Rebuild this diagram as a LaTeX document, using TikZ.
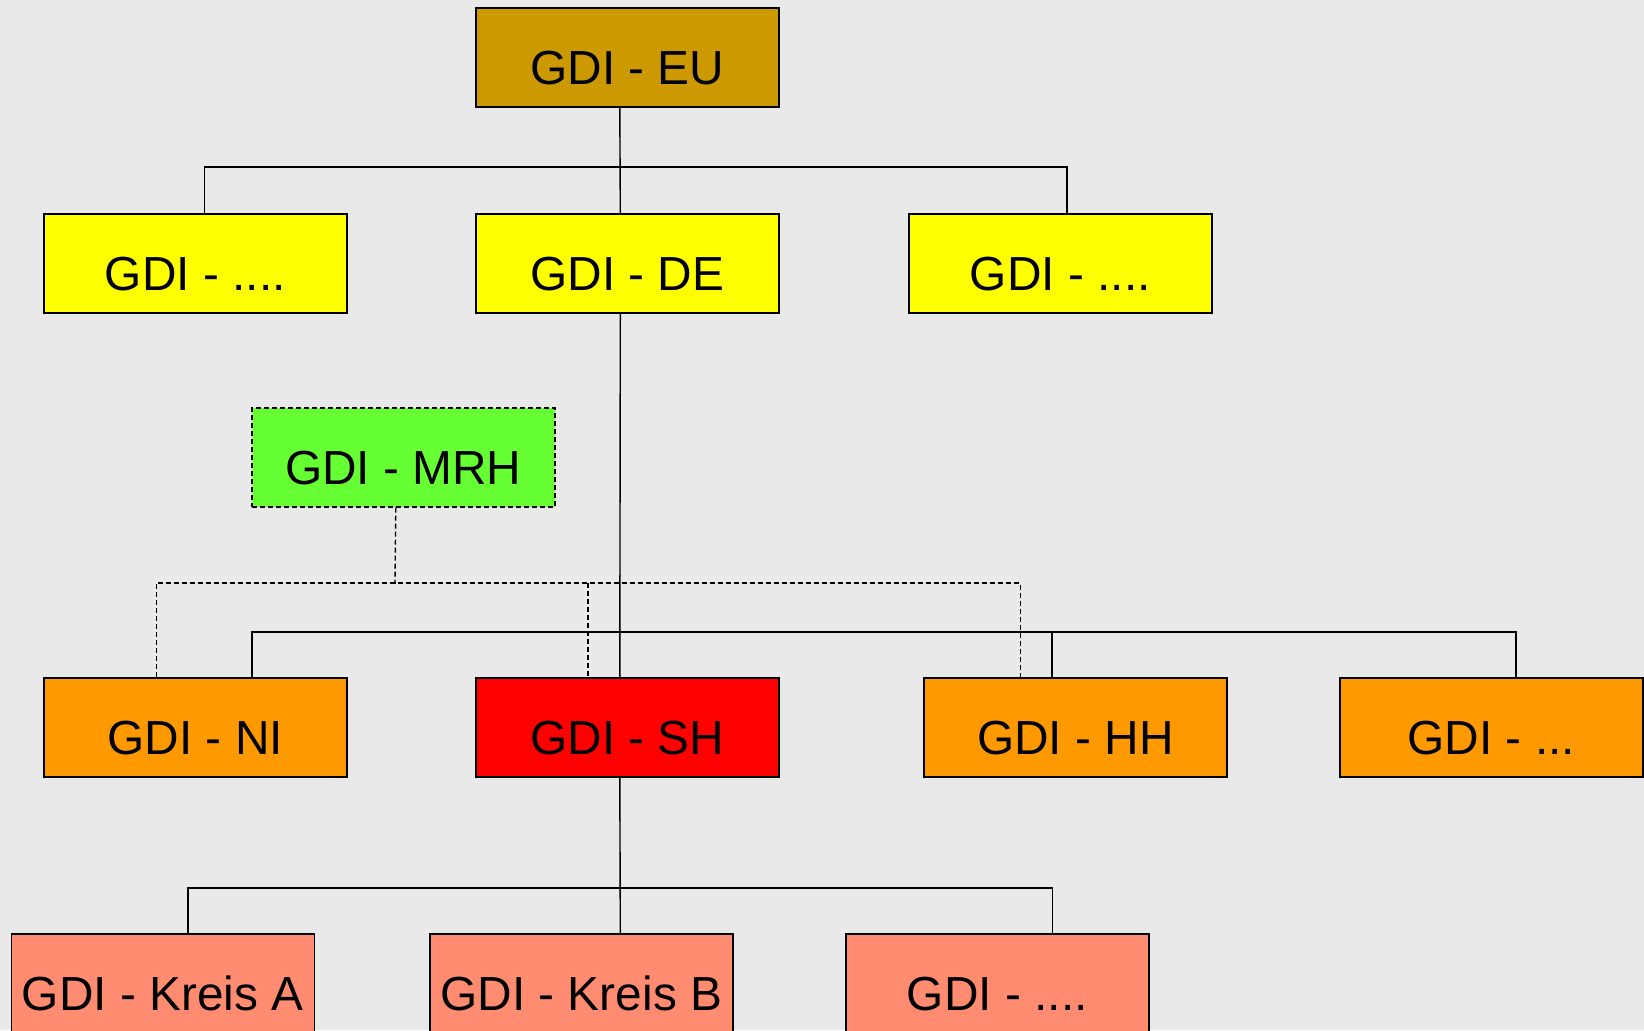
\documentclass[tikz,border=0pt]{standalone}
\usepackage{fontspec}
\setmainfont{Liberation Sans}
\begin{document}
\definecolor{bgc}{HTML}{E9E9E9}
\definecolor{euc}{HTML}{CC9900}
\definecolor{natc}{HTML}{FFFF00}
\definecolor{mrhc}{HTML}{66FF33}
\definecolor{landc}{HTML}{FF9900}
\definecolor{shc}{HTML}{FF0000}
\definecolor{kreisc}{HTML}{FF8C70}
\begin{tikzpicture}[x=1bp,y=-1bp,
  box/.style={draw=black, line width=1.6bp, anchor=north west,
    minimum width=303bp, inner xsep=0pt, inner ysep=0pt,
    text height=77bp, text depth=22bp,
    font=\fontsize{48}{58}\selectfont},
  link/.style={draw=black, line width=1.4bp},
  dlink/.style={link, dash pattern=on 5bp off 3bp}]
\useasboundingbox (0,0) rectangle (1644,1030);
\clip (0,0) rectangle (1644,1030);
\fill[bgc] (0,0) rectangle (1644,1030);

% level 1
\node[box, fill=euc] (eu) at (475,7) {GDI - EU};
% level 2
\node[box, fill=natc] (gl) at (43,213) {GDI - ....};
\node[box, fill=natc] (de) at (475,213) {GDI - DE};
\node[box, fill=natc] (gr) at (908,213) {GDI - ....};
% metropolitan region
\node[box, fill=mrhc, dash pattern=on 5bp off 3bp] (mrh) at (251,407) {GDI - MRH};
% level 3
\node[box, fill=landc] (ni) at (43,677) {GDI - NI};
\node[box, fill=shc] (sh) at (475,677) {GDI - SH};
\node[box, fill=landc] (hh) at (923,677) {GDI - HH};
\node[box, fill=landc] (gx) at (1339,677) {GDI - ...};
% level 4
\node[box, fill=kreisc] (ka) at (10.5,933) {GDI - Kreis A};
\node[box, fill=kreisc] (kb) at (429,933) {GDI - Kreis B};
\node[box, fill=kreisc] (kx) at (845,933) {GDI - ....};

% bus junctions
\coordinate (j1) at (619,167);
\coordinate (j2) at (619,632);
\coordinate (j3) at (619,888);
\coordinate (jm) at (395,583);

% EU -> national level
\draw[link] ([xshift=-7.5bp]eu.south) -- ([xshift=-7bp]de.north);
\draw[link] ([xshift=9bp]gl.north) |- (j1) -| ([xshift=6.5bp]gr.north);

% DE -> federal states
\draw[link] ([xshift=-7bp]de.south) -- ([xshift=-7.5bp]sh.north);
\draw[link] ([xshift=56.7bp]ni.north) |- (j2) -| ([xshift=24.5bp]gx.north);
\draw[link] (j2) -| ([xshift=-23.5bp]hh.north);

% MRH -> member states (dashed)
\draw[dlink] ([xshift=-7.5bp]mrh.south) -- (jm);
\draw[dlink] ([xshift=-39bp]ni.north) |- (jm) -| ([xshift=-55bp]hh.north);
\draw[dlink] ([xshift=-39.5bp]sh.north |- jm) -- ([xshift=-39.5bp]sh.north);

% SH -> districts
\draw[link] ([xshift=-7.5bp]sh.south) -- ([xshift=39bp]kb.north);
\draw[link] ([xshift=25bp]ka.north) |- (j3) -| ([xshift=55bp]kx.north);
\end{tikzpicture}
\end{document}
